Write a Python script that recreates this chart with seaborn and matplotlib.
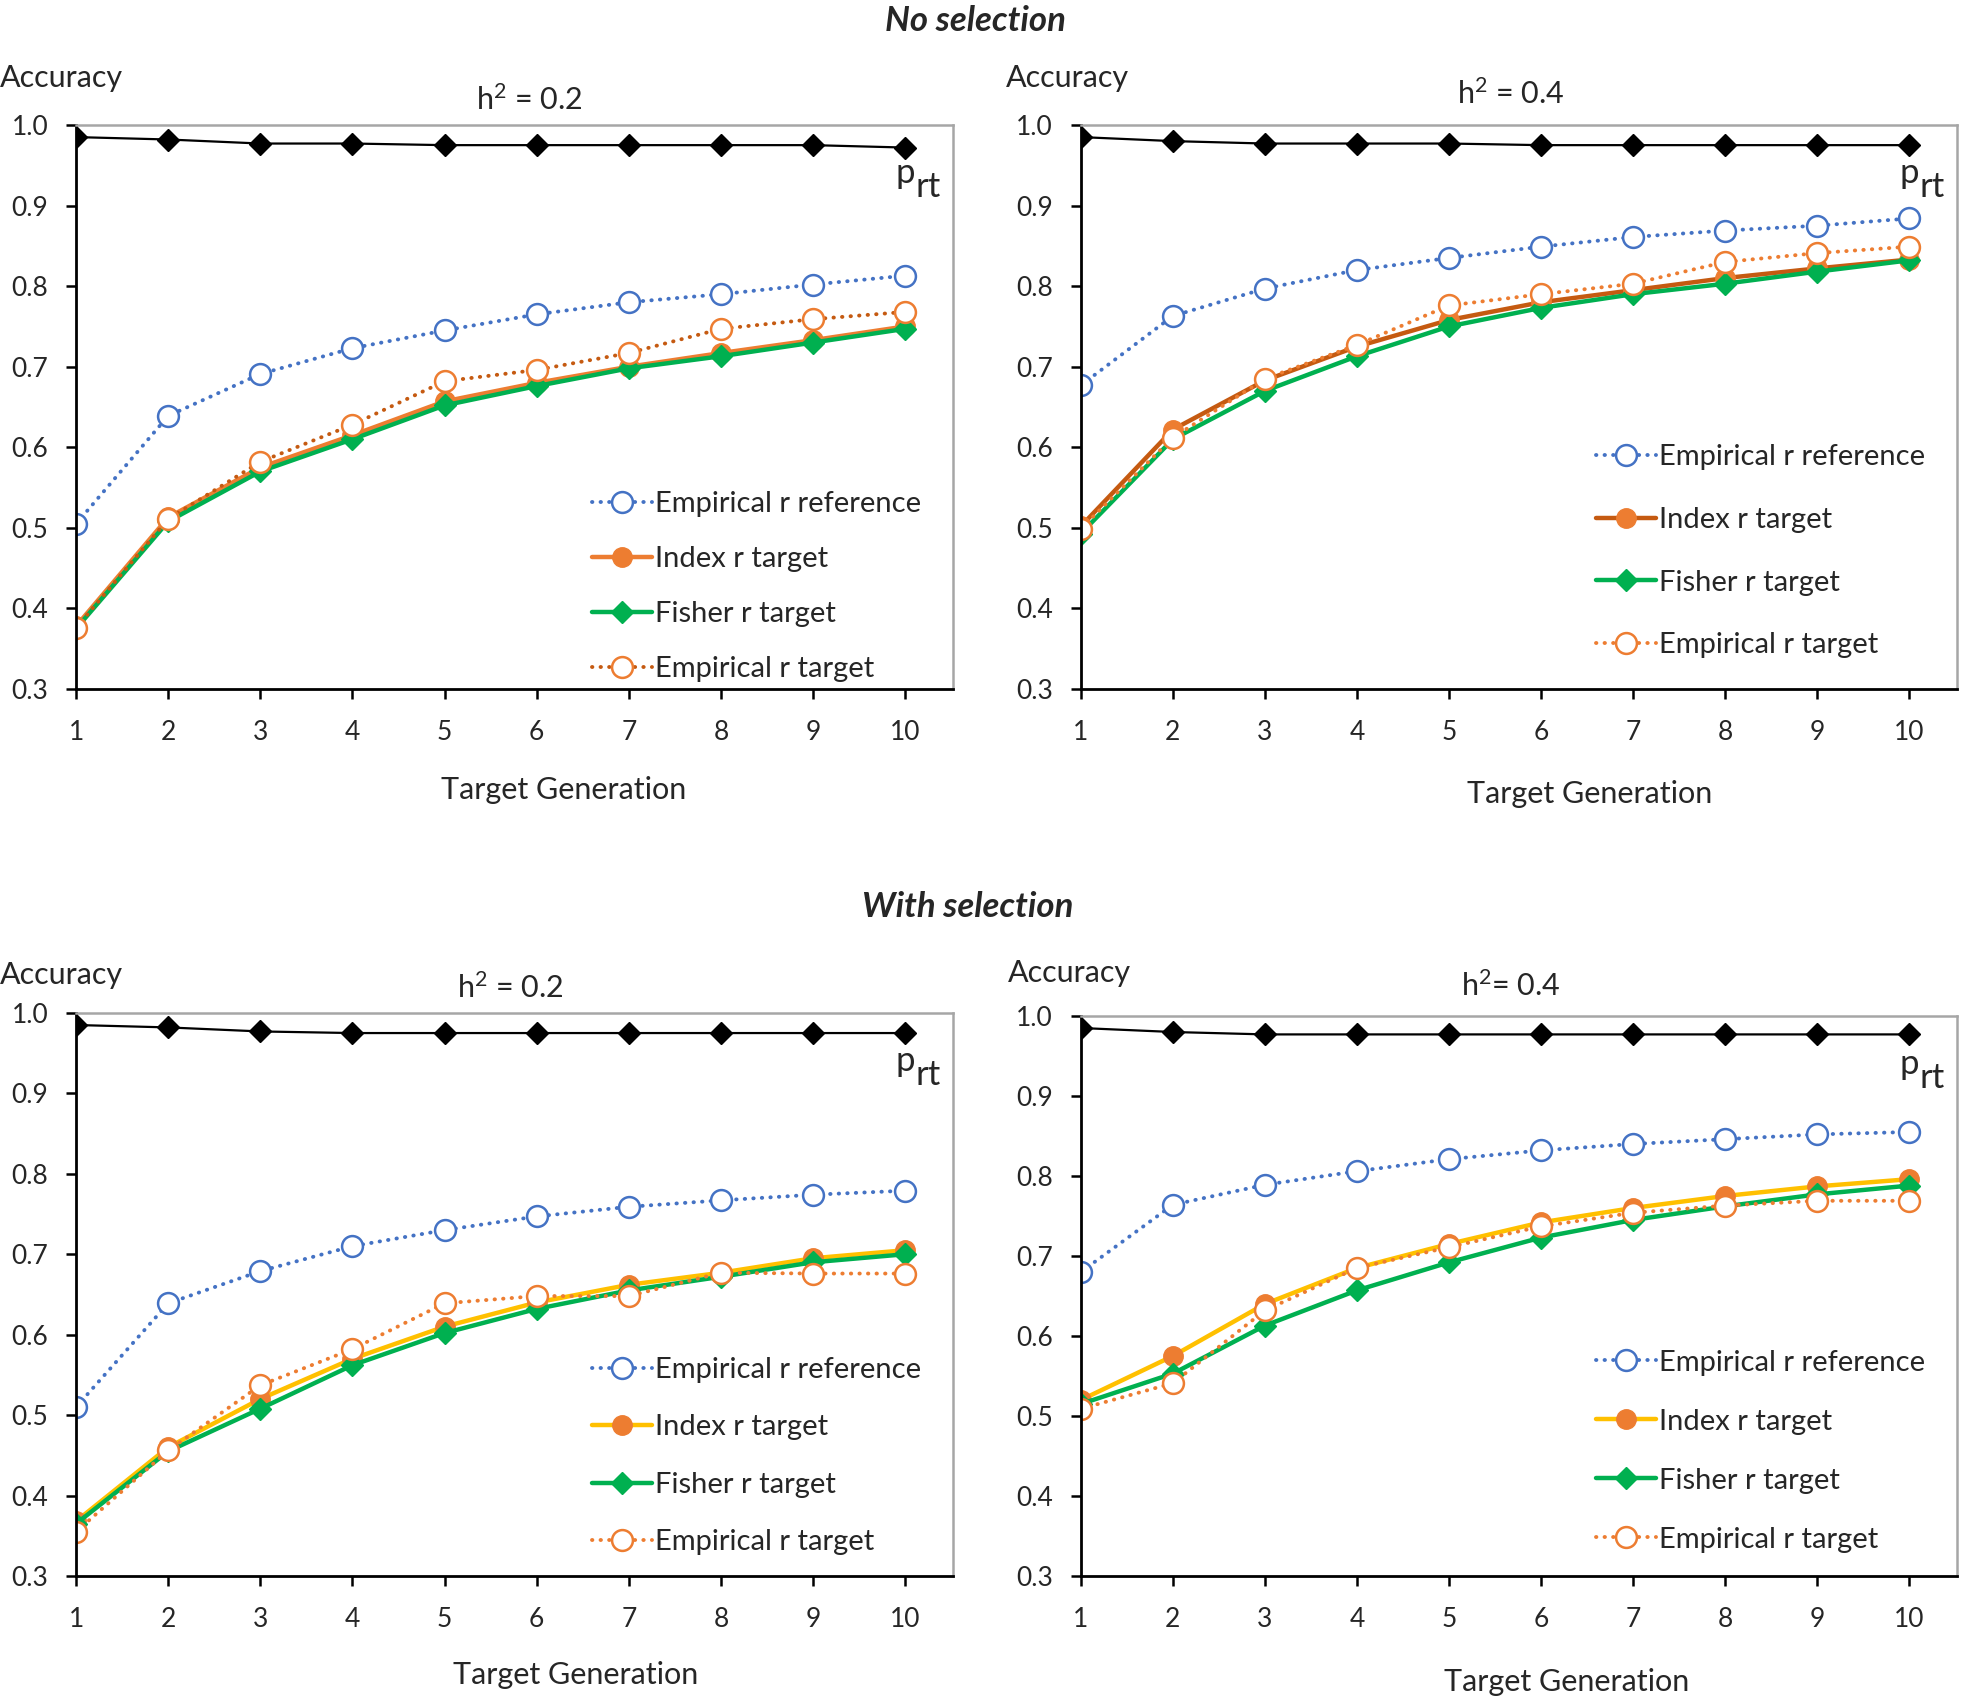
import numpy as np
import pandas as pd
import matplotlib
matplotlib.use('Agg')
import matplotlib.pyplot as plt
import seaborn as sns

gens = list(range(1, 11))

# no selection, h2 = 0.2
ns02_prt = [0.985, 0.982, 0.977, 0.977, 0.975, 0.975, 0.975, 0.975, 0.975, 0.972]
ns02_emp_ref = [0.505, 0.639, 0.691, 0.723, 0.745, 0.765, 0.780, 0.790, 0.802, 0.813]
ns02_index = [0.378, 0.513, 0.575, 0.615, 0.657, 0.680, 0.700, 0.717, 0.733, 0.750]
ns02_fisher = [0.375, 0.508, 0.570, 0.610, 0.652, 0.676, 0.698, 0.713, 0.730, 0.747]
ns02_emp_tgt = [0.376, 0.511, 0.582, 0.628, 0.682, 0.696, 0.717, 0.747, 0.759, 0.768]

# no selection, h2 = 0.4
ns04_prt = [0.985, 0.980, 0.977, 0.977, 0.977, 0.975, 0.975, 0.975, 0.975, 0.975]
ns04_emp_ref = [0.677, 0.763, 0.797, 0.820, 0.835, 0.849, 0.861, 0.869, 0.875, 0.884]
ns04_index = [0.502, 0.622, 0.683, 0.725, 0.758, 0.780, 0.795, 0.810, 0.822, 0.833]
ns04_fisher = [0.493, 0.610, 0.670, 0.713, 0.750, 0.773, 0.790, 0.803, 0.818, 0.832]
ns04_emp_tgt = [0.499, 0.612, 0.685, 0.727, 0.776, 0.790, 0.803, 0.830, 0.841, 0.849]

# with selection, h2 = 0.2
ws02_prt = [0.985, 0.982, 0.977, 0.975, 0.975, 0.975, 0.975, 0.975, 0.975, 0.975]
ws02_emp_ref = [0.510, 0.639, 0.679, 0.710, 0.730, 0.747, 0.759, 0.767, 0.774, 0.779]
ws02_index = [0.368, 0.460, 0.520, 0.570, 0.610, 0.640, 0.662, 0.677, 0.695, 0.705]
ws02_fisher = [0.365, 0.455, 0.508, 0.562, 0.602, 0.632, 0.655, 0.672, 0.690, 0.700]
ws02_emp_tgt = [0.355, 0.456, 0.537, 0.582, 0.639, 0.648, 0.648, 0.677, 0.676, 0.676]

# with selection, h2 = 0.4
ws04_prt = [0.985, 0.980, 0.977, 0.977, 0.977, 0.977, 0.977, 0.977, 0.977, 0.977]
ws04_emp_ref = [0.680, 0.764, 0.789, 0.806, 0.821, 0.832, 0.840, 0.846, 0.852, 0.855]
ws04_index = [0.520, 0.575, 0.640, 0.685, 0.715, 0.742, 0.760, 0.775, 0.787, 0.796]
ws04_fisher = [0.515, 0.553, 0.613, 0.657, 0.692, 0.723, 0.745, 0.762, 0.777, 0.788]
ws04_emp_tgt = [0.509, 0.541, 0.632, 0.685, 0.711, 0.737, 0.754, 0.763, 0.769, 0.769]

labels = ['Empirical r reference', 'Index r target', 'Fisher r target', 'Empirical r target']

sns.set_style('ticks')
plt.rcParams['font.family'] = ['Lato', 'DejaVu Sans']

BLUE = '#4472C4'
ORANGE = '#ED7D31'
BROWN = '#C55A11'
GREEN = '#00B050'
YELLOW = '#FFC000'
DOT = (0, (0.1, 2.1))

fig = plt.figure(figsize=(19.61, 17.03), dpi=100)

panels = [
    # axes rect, data, index line color, emp target line color, legend anchor, labelspacing
    ([0.0388, 0.5954, 0.4472, 0.3312], (ns02_prt, ns02_emp_ref, ns02_index, ns02_fisher, ns02_emp_tgt),
     ORANGE, BROWN, (0.575, 0.372), 1.0),
    ([0.5512, 0.5954, 0.4467, 0.3312], (ns04_prt, ns04_emp_ref, ns04_index, ns04_fisher, ns04_emp_tgt),
     BROWN, ORANGE, (0.575, 0.455), 1.26),
    ([0.0388, 0.0746, 0.4472, 0.3306], (ws02_prt, ws02_emp_ref, ws02_index, ws02_fisher, ws02_emp_tgt),
     YELLOW, ORANGE, (0.575, 0.410), 1.08),
    ([0.5512, 0.0746, 0.4467, 0.3288], (ws04_prt, ws04_emp_ref, ws04_index, ws04_fisher, ws04_emp_tgt),
     YELLOW, ORANGE, (0.575, 0.425), 1.13),
]

for rect, data, idx_col, emp_col, anchor, lspace in panels:
    prt, emp_ref, idx, fisher, emp_tgt = data
    ax = fig.add_axes(rect)

    sns.lineplot(x=gens, y=emp_ref, ax=ax, color=BLUE, linestyle=DOT, linewidth=2.8,
                 marker='o', markersize=15, markerfacecolor='white', markeredgecolor=BLUE,
                 markeredgewidth=1.8, label=labels[0])
    sns.lineplot(x=gens, y=idx, ax=ax, color=idx_col, linewidth=3.2,
                 marker='o', markersize=14, markerfacecolor=ORANGE, markeredgecolor=ORANGE,
                 markeredgewidth=1, label=labels[1])
    sns.lineplot(x=gens, y=fisher, ax=ax, color=GREEN, linewidth=3.2,
                 marker='D', markersize=11, markerfacecolor=GREEN, markeredgecolor=GREEN,
                 markeredgewidth=1, label=labels[2])
    sns.lineplot(x=gens, y=emp_tgt, ax=ax, color=emp_col, linestyle=DOT, linewidth=2.8,
                 marker='o', markersize=15, markerfacecolor='white', markeredgecolor=ORANGE,
                 markeredgewidth=1.8, label=labels[3])
    sns.lineplot(x=gens, y=prt, ax=ax, color='black', linewidth=1.6,
                 marker='D', markersize=11, markerfacecolor='black', markeredgecolor='black',
                 markeredgewidth=1, label='_nolegend_')
    for ln in ax.get_lines():
        ln.set_dash_capstyle('round')

    ax.set_xlim(1, 10.52)
    ax.set_ylim(0.3, 1.0)
    ax.set_xticks(gens)
    ax.set_yticks(np.arange(0.3, 1.01, 0.1))
    ax.set_yticklabels([f'{v:.1f}' for v in np.arange(0.3, 1.01, 0.1)])
    ax.set_xlabel('')
    ax.set_ylabel('')
    ax.tick_params(axis='both', labelsize=19, direction='out', length=7, width=1.8, color='black')
    ax.tick_params(axis='x', pad=15)
    ax.tick_params(axis='y', pad=13)
    for side in ['left', 'bottom']:
        ax.spines[side].set_color('black')
        ax.spines[side].set_linewidth(2)
    for side in ['top', 'right']:
        ax.spines[side].set_visible(True)
        ax.spines[side].set_color('#A6A6A6')
        ax.spines[side].set_linewidth(1.8)

    handles, lbls = ax.get_legend_handles_labels()
    ax.legend(handles[:4], lbls[:4], loc='upper left', bbox_to_anchor=anchor, frameon=False,
              fontsize=21, labelspacing=lspace, handlelength=2.05, handletextpad=0.1,
              borderaxespad=0)

    # p_rt label
    ax.text(0.934, 0.897, 'p', transform=ax.transAxes, fontsize=25, ha='left', va='baseline')
    ax.text(0.957, 0.872, 'rt', transform=ax.transAxes, fontsize=25, ha='left', va='baseline')

# panel texts (figure fractions from positions in the shrunk reference)
def ftext(sx, sy, s, **kw):
    fig.text(sx / 1568, 1 - sy / 1362, s, **kw)

ftext(780, 17, 'No selection', fontsize=25, fontweight='bold', fontstyle='italic', ha='center', va='center')
ftext(774, 725, 'With selection', fontsize=25, fontweight='bold', fontstyle='italic', ha='center', va='center')

for sx, sy in [(0, 62), (804, 62), (0, 780), (806, 778)]:
    ftext(sx, sy, 'Accuracy', fontsize=22, ha='left', va='center')

ftext(423, 80, '$\\mathregular{h^2}$ = 0.2', fontsize=22, ha='center', va='center')
ftext(1208, 75, '$\\mathregular{h^2}$ = 0.4', fontsize=22, ha='center', va='center')
ftext(408, 790, '$\\mathregular{h^2}$ = 0.2', fontsize=22, ha='center', va='center')
ftext(1208, 788, '$\\mathregular{h^2}$= 0.4', fontsize=22, ha='center', va='center')

for sx, sy in [(451, 632), (1271, 635), (460, 1340), (1253, 1345)]:
    ftext(sx, sy, 'Target Generation', fontsize=22, ha='center', va='center')

fig.savefig('out.png', dpi=100)
